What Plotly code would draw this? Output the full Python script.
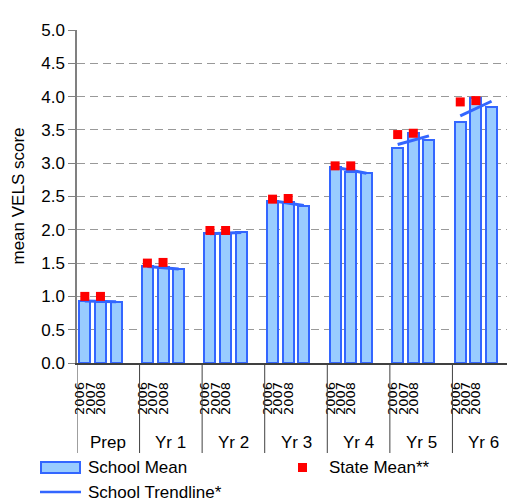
import plotly.graph_objects as go

# ---------------- data ----------------
groups = ["Prep", "Yr 1", "Yr 2", "Yr 3", "Yr 4", "Yr 5", "Yr 6"]
years = ["2006", "2007", "2008"]

school_2006 = [0.935, 1.45, 1.95, 2.43, 2.95, 3.23, 3.62]
school_2007 = [0.92, 1.44, 1.94, 2.41, 2.87, 3.46, 3.98]
school_2008 = [0.92, 1.41, 1.97, 2.36, 2.86, 3.35, 3.85]

state_2006 = [1.00, 1.50, 1.99, 2.46, 2.96, 3.43, 3.92]
state_2007 = [1.00, 1.51, 1.99, 2.47, 2.96, 3.45, 3.94]

trend_2006 = [0.93, 1.45, 1.94, 2.435, 2.94, 3.28, 3.71]
trend_2008 = [0.92, 1.41, 1.96, 2.365, 2.85, 3.41, 3.93]

yticks = [0.0, 0.5, 1.0, 1.5, 2.0, 2.5, 3.0, 3.5, 4.0, 4.5, 5.0]

# ---------------- layout helpers (page pixel coords) ----------------
O = 8  # page body margin offset
W, H = 515, 501
PLOT_L, PLOT_R, PLOT_T, PLOT_B = 77, 515, 30, 363
L = PLOT_L - O
T = PLOT_T - O
R = W - (PLOT_R - O)
B = H - (PLOT_B - O)
PW = PLOT_R - PLOT_L
PH = PLOT_B - PLOT_T
SLOTS = 4  # 3 years + one empty slot per group
FONT = "Arial, 'Liberation Sans', sans-serif"


def px(x):
    return (x - PLOT_L) / PW


def py(y):
    return (PLOT_B - y) / PH


school = [school_2006, school_2007, school_2008]
bar_x, bar_y = [], []
for g in range(len(groups)):
    for s in range(3):
        bar_x.append(g * SLOTS + s)
        bar_y.append(school[s][g])

trend_x, trend_y = [], []
for g in range(len(groups)):
    trend_x += [g * SLOTS, g * SLOTS + 2, None]
    trend_y += [trend_2006[g], trend_2008[g], None]

state_x, state_y = [], []
for g in range(len(groups)):
    state_x += [g * SLOTS, g * SLOTS + 1]
    state_y += [state_2006[g], state_2007[g]]

fig = go.Figure()
fig.add_bar(x=bar_x, y=bar_y, width=0.7,
            marker=dict(color="#99CCFF", line=dict(color="#3366FF", width=2)),
            name="School Mean")
fig.add_scatter(x=trend_x, y=trend_y, mode="lines",
                line=dict(color="#3366FF", width=3), name="School Trendline*")
fig.add_scatter(x=state_x, y=state_y, mode="markers",
                marker=dict(symbol="square", size=9, color="#FF0000"),
                name="State Mean**")

tickvals, ticktext = [], []
for g in range(len(groups)):
    for off, yr in zip((-0.3, 0.36, 1.02), years):
        tickvals.append(g * SLOTS + off)
        ticktext.append(yr)

shapes = []
for g in range(len(groups) + 1):
    shapes.append(dict(type="line", xref="x", yref="paper",
                       x0=g * SLOTS - 0.5, x1=g * SLOTS - 0.5,
                       y0=0, y1=py(453), line=dict(color="#404040", width=1)))

# legend icons
shapes.append(dict(type="rect", xref="paper", yref="paper",
                   x0=px(41), x1=px(80), y0=py(473), y1=py(462),
                   fillcolor="#99CCFF", line=dict(color="#3366FF", width=2)))
shapes.append(dict(type="line", xref="paper", yref="paper",
                   x0=px(40), x1=px(81), y0=py(492), y1=py(492),
                   line=dict(color="#3366FF", width=2.5)))
shapes.append(dict(type="rect", xref="paper", yref="paper",
                   x0=px(298), x1=px(307), y0=py(472), y1=py(463),
                   fillcolor="#FF0000", line=dict(width=0)))

annotations = []
for g, name in enumerate(groups):
    annotations.append(dict(x=g * SLOTS + 1.5, y=py(442), xref="x", yref="paper",
                            text=name, showarrow=False, xanchor="center",
                            yanchor="middle", font=dict(size=17, color="#000")))
annotations.append(dict(x=px(18), y=py(196.5), xref="paper", yref="paper",
                        text="mean VELS score", textangle=-90, showarrow=False,
                        xanchor="center", yanchor="middle",
                        font=dict(size=17, color="#000")))
for txt, x, y in (("School Mean", 86, 467.5), ("State Mean**", 327, 467.5),
                  ("School Trendline*", 86, 492)):
    annotations.append(dict(x=px(x), y=py(y), xref="paper", yref="paper",
                            text=txt, showarrow=False, xanchor="left",
                            yanchor="middle", font=dict(size=17, color="#000")))

fig.update_layout(
    width=W, height=H,
    margin=dict(l=L, r=R, t=T, b=B, autoexpand=False),
    paper_bgcolor="white", plot_bgcolor="white",
    showlegend=False,
    font=dict(family=FONT, color="#000"),
    shapes=shapes, annotations=annotations,
    bargap=0,
)
fig.update_xaxes(range=[-0.5, SLOTS * len(groups) - 0.5], tickvals=tickvals,
                 ticktext=ticktext, tickangle=-90,
                 tickfont=dict(size=13, family="'DejaVu Sans', sans-serif"),
                 ticks="", showline=True, linecolor="#404040", linewidth=1.5,
                 showgrid=False, zeroline=False, ticklabelstandoff=12)
fig.update_yaxes(range=[0, 5], tickvals=yticks, tickformat=".1f",
                 ticks="outside", ticklen=7, tickcolor="#808080",
                 showline=True, linecolor="#808080", linewidth=1.5,
                 showgrid=True, gridcolor="#999999", griddash="8px,5px",
                 zeroline=False, tickfont=dict(size=17))

fig.write_html("out.html")
